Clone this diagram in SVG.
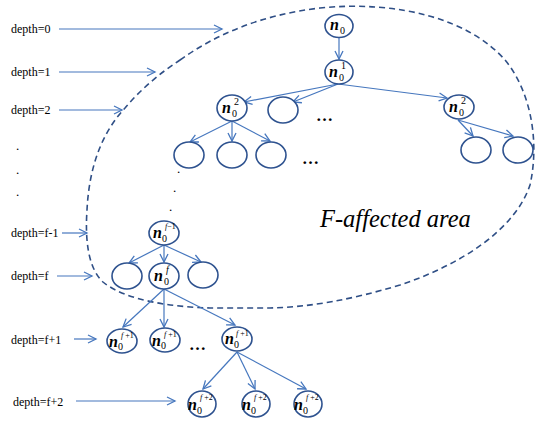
<svg xmlns="http://www.w3.org/2000/svg" width="536" height="421" viewBox="0 0 536 421">
<defs>
<marker id="ah" markerUnits="userSpaceOnUse" markerWidth="12" markerHeight="12" viewBox="-10 -6 12 12" refX="0" refY="0" orient="auto">
<path d="M-8,-4 L0,0 L-8,4" fill="none" stroke="#4677BE" stroke-width="1.3"/>
</marker>
</defs>
<style>
text{font-family:"Liberation Serif","Times New Roman","DejaVu Serif",serif;fill:#000}
.lbl{font-size:12px}
.nd ellipse{fill:#fff;stroke:#2E528F;stroke-width:1.6}
.n{font-style:italic;font-weight:bold;font-size:16px}
.s{font-size:10px}
.sp{font-size:8px}
.sf{font-style:italic}
.dots{font-weight:bold;font-size:17px}
.dot{font-size:13px}
.big{font-style:italic;font-size:24.5px}
.c line{stroke:#4677BE;stroke-width:1.2;marker-end:url(#ah)}
.area{fill:none;stroke:#2F4F86;stroke-width:1.6;stroke-dasharray:6 4}
</style>
<rect width="536" height="421" fill="#fff"/>
<path class="area" d="M180,60 C215,35 260,15 320,8 C400,0 470,20 505,60 C530,90 540,140 530,185 C515,230 460,265 400,285 C350,300 310,307 270,308 L210,308 C170,307 125,300 103,282 C88,268 85,240 87,210 C89,170 100,135 125,108 C140,90 160,73 180,60 Z"/>
<text class="lbl" x="11" y="33">depth=0</text>
<text class="lbl" x="11" y="76">depth=1</text>
<text class="lbl" x="11" y="114">depth=2</text>
<text class="lbl" x="11" y="237">depth=f-1</text>
<text class="lbl" x="11" y="280">depth=f</text>
<text class="lbl" x="11" y="344">depth=f+1</text>
<text class="lbl" x="13" y="406">depth=f+2</text>
<text class="dot" x="16" y="150">.</text>
<text class="dot" x="16" y="174">.</text>
<text class="dot" x="16" y="196">.</text>
<text class="dot" x="177" y="173">.</text>
<text class="dot" x="173" y="192">.</text>
<text class="dot" x="169" y="211">.</text>
<text class="dots" x="316" y="121">…</text>
<text class="dots" x="302" y="164">…</text>
<text class="dots" x="189" y="350">…</text>
<text class="big" x="320" y="227">F-affected area</text>
<g class="c">
<line x1="59" y1="29" x2="222" y2="29"/>
<line x1="59" y1="72" x2="155" y2="72"/>
<line x1="59" y1="110" x2="122" y2="110"/>
<line x1="62" y1="233" x2="87" y2="233"/>
<line x1="57" y1="276" x2="92" y2="276"/>
<line x1="74" y1="339" x2="96" y2="339"/>
<line x1="76" y1="401" x2="175" y2="401"/>
<line x1="339" y1="38" x2="339" y2="59"/>
<line x1="338" y1="84" x2="244" y2="102"/>
<line x1="338" y1="84" x2="293" y2="102"/>
<line x1="338" y1="84" x2="447" y2="98"/>
<line x1="458" y1="120" x2="473" y2="136"/>
<line x1="458" y1="120" x2="513" y2="136"/>
<line x1="232" y1="121" x2="190" y2="142"/>
<line x1="232" y1="121" x2="232" y2="141"/>
<line x1="232" y1="121" x2="270" y2="141"/>
<line x1="164" y1="245" x2="129" y2="263"/>
<line x1="164" y1="245" x2="164" y2="262"/>
<line x1="164" y1="245" x2="201" y2="262"/>
<line x1="164" y1="289" x2="123" y2="327"/>
<line x1="164" y1="289" x2="164" y2="327"/>
<line x1="164" y1="289" x2="235" y2="325"/>
<line x1="237" y1="352" x2="203" y2="389"/>
<line x1="237" y1="352" x2="255" y2="389"/>
<line x1="237" y1="352" x2="306" y2="389"/>
</g>
<g id="n0" class="nd"><ellipse cx="339" cy="26" rx="14" ry="11.5"/><text class="n" x="330" y="30">n</text><text class="s" x="340" y="34">0</text></g>
<g id="n01" class="nd"><ellipse cx="339" cy="72" rx="14" ry="12"/><text class="n" x="329" y="77">n</text><text class="s" x="339" y="81">0</text><text class="s" x="341" y="69">1</text></g>
<g id="n02a" class="nd"><ellipse cx="232" cy="108" rx="15" ry="13"/><text class="n" x="222" y="113">n</text><text class="s" x="232" y="117">0</text><text class="s" x="234" y="105">2</text></g>
<g id="e1" class="nd"><ellipse cx="283" cy="110" rx="15" ry="13"/></g>
<g id="n02b" class="nd"><ellipse cx="459" cy="107" rx="15" ry="12"/><text class="n" x="449" y="112">n</text><text class="s" x="459" y="116">0</text><text class="s" x="461" y="104">2</text></g>
<g id="e2" class="nd"><ellipse cx="476" cy="150" rx="15" ry="13"/></g>
<g id="e3" class="nd"><ellipse cx="518" cy="150" rx="15" ry="13"/></g>
<g id="e4" class="nd"><ellipse cx="189" cy="155" rx="15" ry="13"/></g>
<g id="e5" class="nd"><ellipse cx="232" cy="155" rx="15" ry="13"/></g>
<g id="e6" class="nd"><ellipse cx="271" cy="155" rx="15" ry="13"/></g>
<g id="n0fm1" class="nd"><ellipse cx="164" cy="233" rx="15" ry="12"/><text class="n" x="153" y="238">n</text><text class="s" x="162" y="242">0</text><text class="sp" x="165" y="229"><tspan class="sf">f</tspan>−1</text></g>
<g id="e7" class="nd"><ellipse cx="127" cy="276" rx="15" ry="13"/></g>
<g id="n0f" class="nd"><ellipse cx="164" cy="276" rx="15" ry="13"/><text class="n" x="154" y="281">n</text><text class="s" x="164" y="285">0</text><text class="s sf" x="166" y="273">f</text></g>
<g id="e8" class="nd"><ellipse cx="203" cy="275" rx="15" ry="13"/></g>
<g id="n0f1a" class="nd"><ellipse cx="122" cy="341" rx="15" ry="12"/><text class="n" x="109" y="347">n</text><text class="s" x="118" y="350">0</text><text class="sp" x="121" y="338"><tspan class="sf">f</tspan> +1</text></g>
<g id="n0f1b" class="nd"><ellipse cx="165" cy="340" rx="15" ry="12"/><text class="n" x="152" y="346">n</text><text class="s" x="161" y="349">0</text><text class="sp" x="164" y="337"><tspan class="sf">f</tspan> +1</text></g>
<g id="n0f1c" class="nd"><ellipse cx="237" cy="339" rx="15" ry="12"/><text class="n" x="225" y="344">n</text><text class="s" x="234" y="348">0</text><text class="sp" x="236" y="336"><tspan class="sf">f</tspan> +1</text></g>
<g id="n0f2a" class="nd"><ellipse cx="202" cy="404" rx="14" ry="13"/><text class="n" x="188" y="410">n</text><text class="s" x="197" y="414">0</text><text class="sp" x="200" y="400"><tspan class="sf">f</tspan> +2</text></g>
<g id="n0f2b" class="nd"><ellipse cx="256" cy="404" rx="14" ry="13"/><text class="n" x="242" y="410">n</text><text class="s" x="251" y="414">0</text><text class="sp" x="254" y="400"><tspan class="sf">f</tspan> +2</text></g>
<g id="n0f2c" class="nd"><ellipse cx="308" cy="404" rx="14" ry="13"/><text class="n" x="294" y="410">n</text><text class="s" x="303" y="414">0</text><text class="sp" x="306" y="400"><tspan class="sf">f</tspan> +2</text></g>
</svg>
